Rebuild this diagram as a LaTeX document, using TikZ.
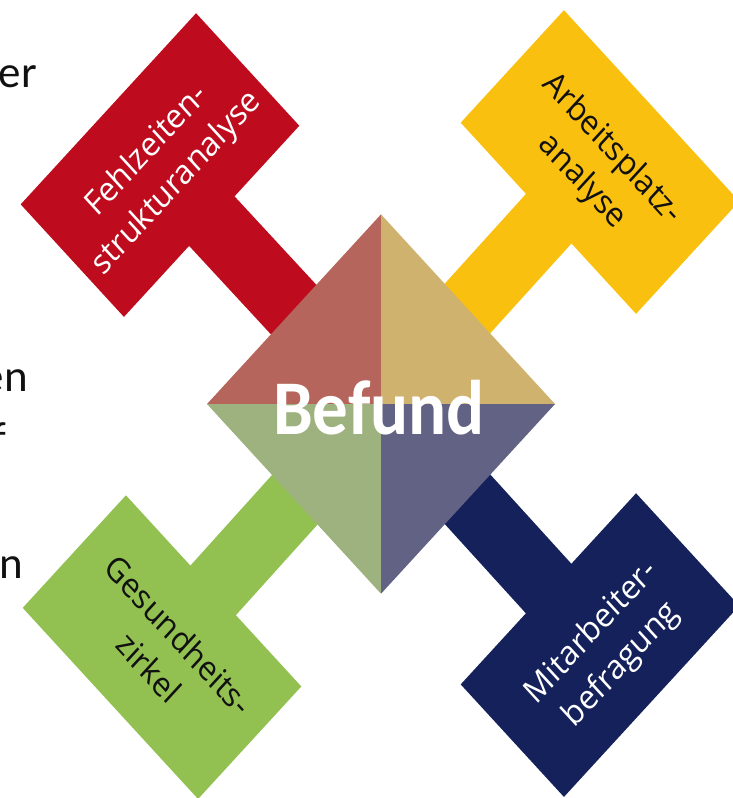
\documentclass[tikz,border=0pt]{standalone}
\usepackage{fontspec}
\setmainfont{Carlito}
\newfontfamily\labelfont{Open Sans}
\definecolor{cRed}{HTML}{BE0C1E}
\definecolor{cYel}{HTML}{FAC00F}
\definecolor{cGrn}{HTML}{92C152}
\definecolor{cNav}{HTML}{15215B}
\definecolor{qTL}{HTML}{B5655B}
\definecolor{qTR}{HTML}{CFB26E}
\definecolor{qBL}{HTML}{9EB280}
\definecolor{qBR}{HTML}{626384}
\definecolor{ink}{HTML}{111111}
\begin{document}
\begin{tikzpicture}[x=1pt,y=-1pt,
  boxshape/.style={fill=#1, minimum width=248pt, minimum height=146pt, inner sep=0pt, transform shape},
  stem/.style={line width=67pt, draw=#1},
  lbl/.style={font=\labelfont\fontsize{31}{42}\selectfont, align=center, inner sep=0pt, transform shape, text=#1},
  side/.style={font=\fontsize{45}{54}\selectfont, inner sep=0pt, text=ink}]
\useasboundingbox (0,0) rectangle (733,798);
\clip (0,0) rectangle (733,798);
% cut-off slide text on the left
\node[side, anchor=base east] (s1) at (37,87) {er};
\node[side, anchor=base east] (s2) at (28,391) {en};
\node[side, anchor=base west] (s3) at (-8,453) {f};
\node[side, anchor=base east] (s4) at (23,578) {n};
\begin{scope}[yscale=1.09]
  \coordinate (C) at (381,370.6);
  \coordinate (rc) at (160,151.4);
  \coordinate (yc) at (600,148.6);
  \coordinate (gc) at (162,593.6);
  \coordinate (nc) at (600,591.7);
  \coordinate (T) at (381,196.6);
  \coordinate (L) at (207,370.6);
  \coordinate (R) at (555,370.6);
  \coordinate (B) at (381,544.6);
  % stems
  \draw[stem=cRed] (rc) -- (C);
  \draw[stem=cYel] (yc) -- (C);
  \draw[stem=cGrn] (gc) -- (C);
  \draw[stem=cNav] (nc) -- (C);
  % boxes
  \node[boxshape=cRed, rotate=45] (redbox) at (rc) {};
  \node[boxshape=cYel, rotate=-45] (yelbox) at (yc) {};
  \node[boxshape=cGrn, rotate=-45] (grnbox) at (gc) {};
  \node[boxshape=cNav, rotate=45] (navbox) at (nc) {};
  % labels
  \node[lbl=white, rotate=45] (redlbl) at (162.1,153.5) {Fehlzeiten-\\strukturanalyse};
  \node[lbl=ink, rotate=-45] (yellbl) at (596.8,151.8) {Arbeitsplatz-\\analyse};
  \node[lbl=ink, rotate=-45] (grnlbl) at (163.9,597.3) {Gesundheits-\\zirkel};
  \node[lbl=white, rotate=45] (navlbl) at (606.7,595.2) {Mitarbeiter-\\befragung};
  % diamond
  \fill[qTL] (T) -- (L) -- (C) -- cycle;
  \fill[qTR] (T) -- (R) -- (C) -- cycle;
  \fill[qBL] (B) -- (L) -- (C) -- cycle;
  \fill[qBR] (B) -- (R) -- (C) -- cycle;
  \node[font=\bfseries\fontsize{71}{80}\selectfont, text=white, inner sep=0pt, transform shape] (befund) at (379,374) {Befund};
\end{scope}
\end{tikzpicture}
\end{document}
